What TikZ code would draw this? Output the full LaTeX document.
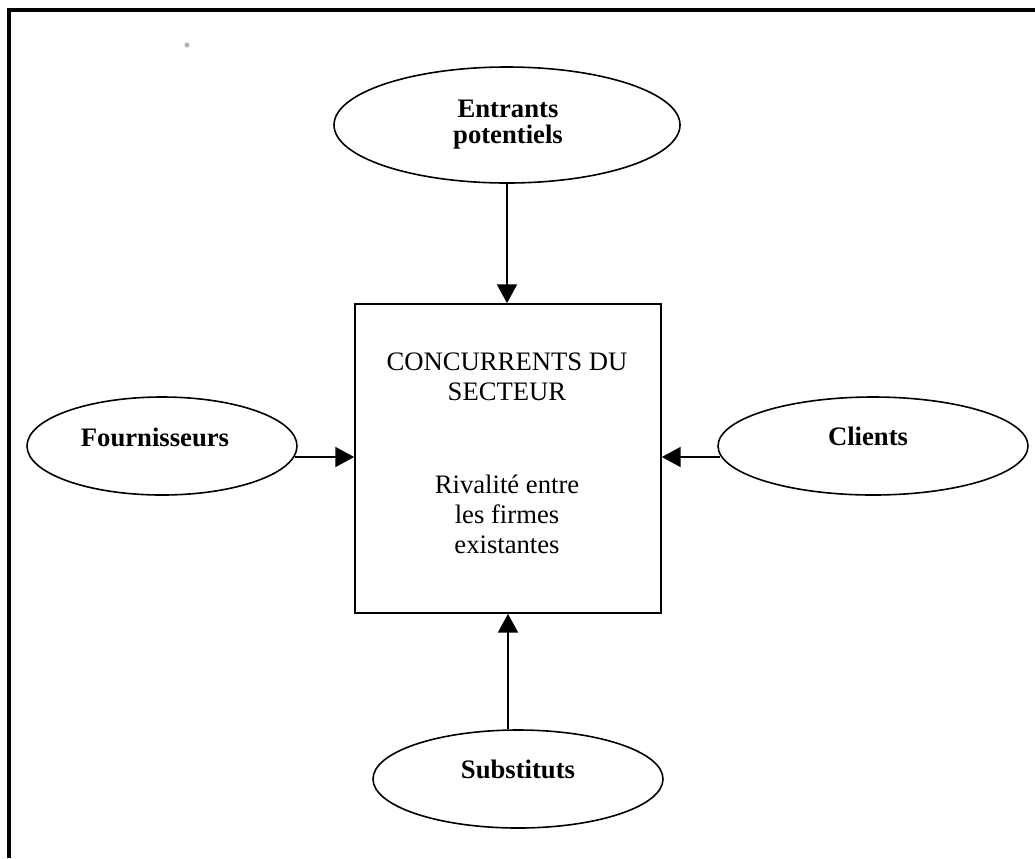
\documentclass[tikz,border=0pt]{standalone}
\usepackage{fontspec}
\setmainfont{Liberation Serif}
\usetikzlibrary{arrows.meta,shapes.geometric}
\begin{document}
\begin{tikzpicture}[x=0.75pt,y=-0.75pt,
  force/.style={draw=black,line width=1.2pt,ellipse,inner sep=0pt},
  sector/.style={draw=black,line width=1.3pt,rectangle,inner sep=0pt,
    minimum width=229.5pt,minimum height=231.75pt},
  forcelabel/.style={anchor=base,inner sep=0pt,
    font=\fontsize{20}{22.5}\selectfont\bfseries},
  sectorlabel/.style={anchor=base,inner sep=0pt,
    font=\fontsize{20}{22.5}\selectfont},
  push/.style={line width=1.1pt,-{Triangle[length=14pt,width=15pt]}},
  frame/.style={line width=2.4pt}]
% page and frame
\fill[white] (0,0) rectangle (1035,858);
\useasboundingbox (0,0) rectangle (1035,858);
\draw[frame] (9,858) -- (9,10) -- (1035,10);
\fill[gray!60] (187,45) circle[radius=2.5];

% the five forces
\node[force,minimum width=259.5pt,minimum height=87pt] (entrants) at (507,125) {};
\node[force,minimum width=202.5pt,minimum height=73.5pt] (fourn) at (162,446) {};
\node[force,minimum width=232.5pt,minimum height=73.5pt] (clients) at (873,446) {};
\node[force,minimum width=217.5pt,minimum height=73.5pt] (subst) at (518,779) {};
\node[sector] (sector) at (508,458.5) {};

% labels
\node[forcelabel] (entr1) at (508,117) {Entrants};
\node[forcelabel] (entr2) at (508,143) {potentiels};
\node[forcelabel] (fournlbl) at (155,446) {Fournisseurs};
\node[forcelabel] (clientslbl) at (868,445) {Clients};
\node[forcelabel] (substlbl) at (518,778) {Substituts};

\node[sectorlabel] (sec1) at (507,370) {CONCURRENTS DU};
\node[sectorlabel] (sec2) at (507,400) {SECTEUR};
\node[sectorlabel] (sec3) at (507,493) {Rivalité entre};
\node[sectorlabel] (sec4) at (507,523) {les firmes};
\node[sectorlabel] (sec5) at (507,553) {existantes};

% pressures on the sector
\draw[push] (entrants.south) -- (entrants.south |- sector.north);
\draw[push] (sector.south |- subst.north) -- (sector.south);
\coordinate (fa) at ([shift={(-3,11)}]fourn.east);
\draw[push] (fa) -- (fa -| sector.west);
\coordinate (ca) at ([shift={(3,11)}]clients.west);
\draw[push] (ca) -- (ca -| sector.east);
\end{tikzpicture}
\end{document}
